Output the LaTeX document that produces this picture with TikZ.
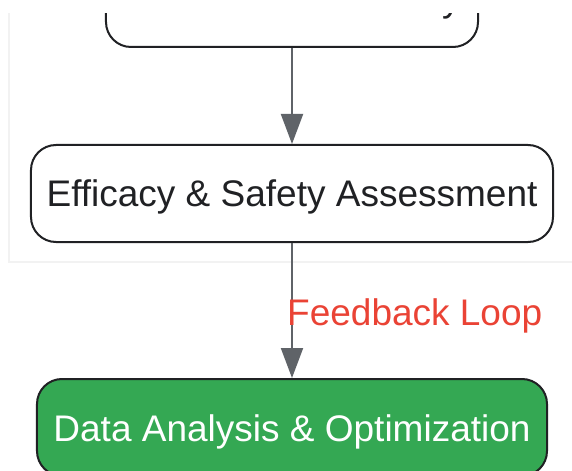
\documentclass[tikz,border=0pt]{standalone}
\usepackage{fontspec}
\setmainfont{Liberation Sans}
\usetikzlibrary{arrows.meta}
\definecolor{boxline}{HTML}{202124}
\definecolor{arrowgray}{HTML}{5F6368}
\definecolor{gGreen}{HTML}{34A853}
\definecolor{gRed}{HTML}{EA4335}
\definecolor{clusterline}{HTML}{F2F2F2}
\tikzset{
  flowbox/.style={draw=boxline, line width=2bp, rounded corners=25bp, fill=white,
    text=boxline, font=\fontsize{37bp}{44bp}\selectfont, text height=27bp, text depth=0bp,
    inner sep=0pt, minimum height=97bp},
  greenbox/.style={flowbox, fill=gGreen, text=white},
  flowarrow/.style={draw=arrowgray, line width=2bp, -{Triangle[length=30bp,width=22bp]}},
  edgelabel/.style={text=gRed, font=\fontsize{37bp}{44bp}\selectfont, inner sep=0pt}
}
\begin{document}
\begin{tikzpicture}[x=1bp,y=-1bp]
\useasboundingbox (0,0) rectangle (572,471);
\fill[white] (0,0) rectangle (572,471);
\clip (0,14) rectangle (572,471);
\draw[clusterline, line width=2bp, fill=white] (9,-100) rectangle (640,262);
\node[flowbox, minimum width=372bp] (deliv) at (292,-1.5) {Nanocarrier Delivery};
\node[flowbox, minimum width=522bp] (assess) at (292,193.5) {Efficacy \& Safety Assessment};
\node[greenbox, minimum width=510bp] (optim) at (292,427.5) {Data Analysis \& Optimization};
\draw[flowarrow] (deliv) -- (assess);
\draw[flowarrow] (assess) -- (optim);
\node[edgelabel, anchor=base west] (fb) at (287,325) {Feedback Loop};
\end{tikzpicture}
\end{document}
